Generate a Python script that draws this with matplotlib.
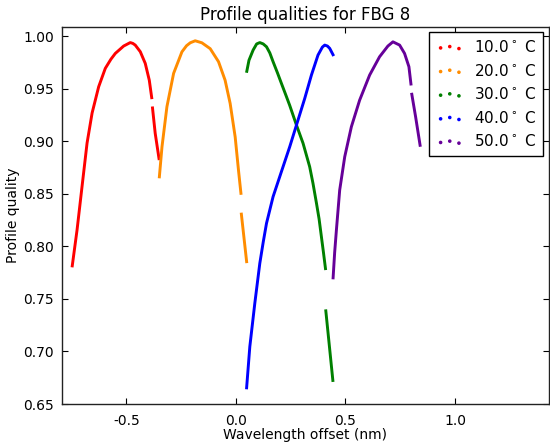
import numpy as np
import matplotlib
matplotlib.use("Agg")
import matplotlib.pyplot as plt

nan = np.nan

labels = ["10.0$^\\circ$ C", "20.0$^\\circ$ C", "30.0$^\\circ$ C", "40.0$^\\circ$ C", "50.0$^\\circ$ C"]
colors = ["#ff0000", "#ff8c00", "#008000", "#0000ff", "#660099"]

x10 = [-0.7475, -0.7247, -0.702, -0.679, -0.656, -0.626, -0.5957, -0.570, -0.550, -0.512, -0.4818, -0.470,
       -0.459, -0.436, -0.4134, -0.395, -0.383, nan, -0.381, -0.368, -0.3496]
y10 = [0.780, 0.8155, 0.8567, 0.8982, 0.9268, 0.9518, 0.9693, 0.978, 0.9835, 0.9905, 0.9938, 0.993,
       0.9914, 0.9851, 0.974, 0.958, 0.940, nan, 0.933, 0.9075, 0.882]

x20 = [-0.3496, -0.337, -0.3145, -0.284, -0.246, -0.225, -0.208, -0.1855, -0.155, -0.117, -0.079, -0.049,
       -0.026, -0.003, 0.012, 0.024, nan, 0.0245, 0.050]
y20 = [0.8647, 0.8947, 0.9328, 0.9645, 0.985, 0.9908, 0.9936, 0.9955, 0.9936, 0.988, 0.9756, 0.958,
       0.936, 0.904, 0.8726, 0.849, nan, 0.832, 0.784]

x30 = [0.0487, 0.060, 0.079, 0.095, 0.1094, 0.125, 0.14, 0.155, 0.170, 0.190, 0.208, 0.228, 0.246, 0.2767,
       0.3068, 0.337, 0.352, 0.368, 0.380, 0.3906, 0.400, 0.410, nan, 0.410, 0.4435]
y30 = [0.9651, 0.977, 0.9867, 0.9925, 0.9938, 0.9925, 0.9898, 0.984, 0.9756, 0.965, 0.955, 0.944, 0.934,
       0.9153, 0.898, 0.8757, 0.860, 0.841, 0.826, 0.809, 0.794, 0.7774, nan, 0.740, 0.671]

x40 = [0.0487, 0.0638, 0.0866, 0.1094, 0.125, 0.14, 0.170, 0.208, 0.246, 0.2767, 0.3145, 0.345, 0.375, 0.395,
       0.4057, 0.418, 0.4284, 0.4467]
y40 = [0.664, 0.7045, 0.7458, 0.7838, 0.804, 0.8219, 0.8472, 0.871, 0.8947, 0.9153, 0.9407, 0.9629, 0.9819,
       0.9895, 0.9914, 0.9905, 0.9883, 0.981]

x50 = [0.4435, 0.451, 0.459, 0.474, 0.497, 0.5273, 0.565, 0.6107, 0.656, 0.694, 0.717, 0.7475, 0.770, 0.790,
       0.800, nan, 0.802, 0.8204, 0.842]
y50 = [0.7686, 0.794, 0.8155, 0.8535, 0.8852, 0.9137, 0.939, 0.9629, 0.9803, 0.9905, 0.9945, 0.9914, 0.9835,
       0.9708, 0.953, nan, 0.946, 0.9233, 0.8947]

xs = [x10, x20, x30, x40, x50]
ys = [y10, y20, y30, y40, y50]

fig = plt.figure(figsize=(5.5, 4.43), dpi=100)
ax = fig.add_axes([62.3 / 550, 39 / 443, (548.5 - 62.3) / 550, (404 - 26.7) / 443])

for x, y, c, lab in zip(xs, ys, colors, labels):
    ax.plot(x, y, color=c, lw=2.1, solid_capstyle="butt")
    ax.scatter([], [], s=2.5, color=c, label=lab)

ax.set_xlim(-0.792, 1.427)
ax.set_ylim(0.65, 1.0089)
ax.set_xticks([-0.5, 0.0, 0.5, 1.0])
ax.set_yticks(np.arange(0.65, 1.001, 0.05))
ax.xaxis.set_major_formatter(matplotlib.ticker.FormatStrFormatter("%.1f"))
ax.yaxis.set_major_formatter(matplotlib.ticker.FormatStrFormatter("%.2f"))
ax.tick_params(direction="in", top=True, right=True, length=4, width=0.8, labelsize=10)
ax.tick_params(axis="x", pad=7)
ax.tick_params(axis="y", pad=6)
for s in ax.spines.values():
    s.set_linewidth(1.0)
    s.set_color("#222222")

ax.set_title("Profile qualities for FBG 8", fontsize=12, pad=5)
ax.set_xlabel("Wavelength offset (nm)", fontsize=10, labelpad=0)
ax.set_ylabel("Profile quality", fontsize=10, labelpad=2)

leg = ax.legend(loc="upper right", scatterpoints=3, scatteryoffsets=[0.375, 0.5, 0.3125],
                fontsize=11, fancybox=False, framealpha=1, edgecolor="black",
                borderaxespad=0.35, borderpad=0.45, handletextpad=0.7, labelspacing=0.5,
                handlelength=1.8)
leg.get_frame().set_linewidth(1.0)

fig.savefig("out.png", dpi=100)
